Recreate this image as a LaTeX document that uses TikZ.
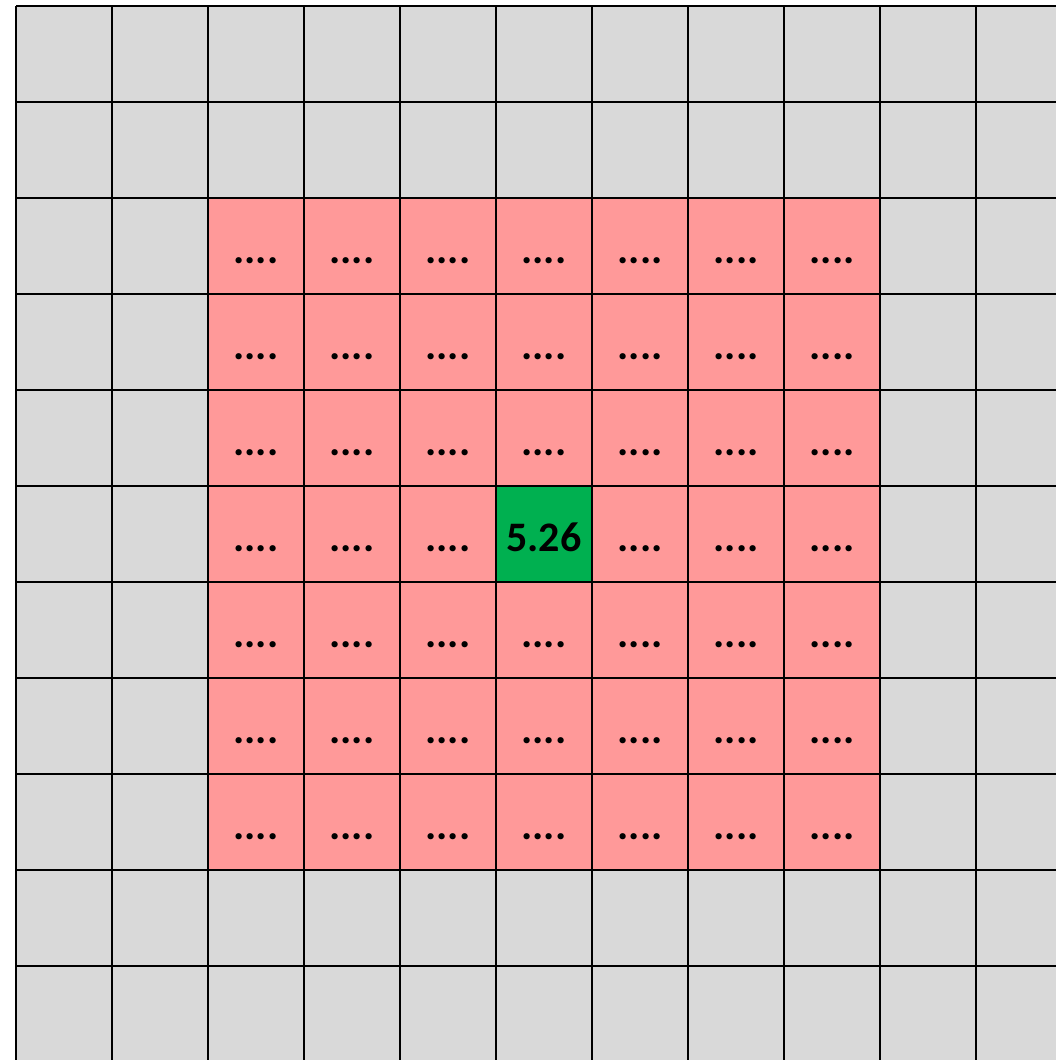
\documentclass[tikz,border=0pt]{standalone}
\usepackage{fontspec}
\setmainfont{Carlito}
\definecolor{cellgray}{HTML}{D9D9D9}
\definecolor{cellpink}{HTML}{FF9999}
\definecolor{cellgreen}{HTML}{00B050}
\tikzset{
  gridline/.style={line width=2pt, black},
  celltext/.style={anchor=base, inner sep=0pt, font=\fontsize{42}{48}\selectfont\bfseries, text=black}
}
\begin{document}
\begin{tikzpicture}[x=1pt,y=-1pt]
\useasboundingbox (0,0) rectangle (1056,1060);
\clip (0,0) rectangle (1056,1060);
\fill[cellgray] (16,6) rectangle (1080,1080);
\fill[cellpink] (208,198) rectangle (880,870);
\fill[cellgreen] (496,486) rectangle (592,582);
\foreach \i in {0,...,11} {
  \draw[gridline] ({16+96*\i},6) -- ({16+96*\i},1080);
  \draw[gridline] (16,{6+96*\i}) -- (1080,{6+96*\i});
}
\foreach \i in {2,...,8} {
  \foreach \j in {2,...,8} {
    \ifnum\i=5 \ifnum\j=5 \else
      \node[celltext] (t-\i-\j) at ({64+96*\i},{71+96*\j}) {....};
    \fi \else
      \node[celltext] (t-\i-\j) at ({64+96*\i},{71+96*\j}) {....};
    \fi
  }
}
\node[celltext] (center) at (544,551) {5.26};
\end{tikzpicture}
\end{document}
